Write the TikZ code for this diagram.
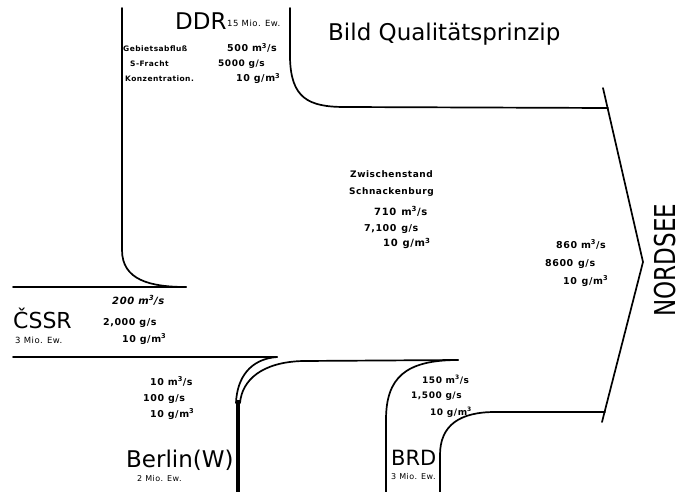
\documentclass[tikz,border=0pt]{standalone}
\usepackage{fontspec}
\setmainfont{DejaVu Sans}
\newfontfamily\lab[LetterSpace=6]{DejaVu Sans}
\newcommand{\cub}{\textsuperscript{3}}
\begin{document}
\begin{tikzpicture}[x=1pt,y=-1pt,
  river/.style={line width=1.7pt, line cap=round, line join=round},
  big/.style={font=\fontsize{#1}{#1}\selectfont, inner sep=0pt, anchor=base west},
  lbl/.style={font=\lab\bfseries\fontsize{#1}{#1}\selectfont, inner sep=0pt, anchor=base west},
  ilbl/.style={font=\lab\bfseries\itshape\fontsize{#1}{#1}\selectfont, inner sep=0pt, anchor=base west},
  ew/.style={font=\lab\fontsize{#1}{#1}\selectfont, inner sep=0pt, anchor=base west}]
\useasboundingbox[fill=white] (0,0) rectangle (686,492);

% ---- river boundaries ----
% DDR left bank, joining CSSR top
\draw[river] (122,8) -- (122,250) .. controls (122,280) and (150,287) .. (186,287);
\draw[river] (13,287) -- (186,287);
% DDR right bank, to Nordsee
\draw[river] (290,8) -- (290,58) .. controls (291,98) and (308,107) .. (345,107) -- (608,108);
% Nordsee bracket
\draw[river] (603,88) -- (643,262) -- (602,422);
% CSSR lower bank / Berlin / BRD
\draw[river] (13,357) -- (277,357);
\draw[river] (277,357) .. controls (250,359) and (237,378) .. (236,403);
\draw[river] (303,361) .. controls (262,362) and (242,380) .. (240,403);
\draw[line width=3.5pt] (238,400) -- (238,492);
\draw[river] (303,361) -- (458,360);
\draw[river] (458,360) .. controls (405,360) and (386,378) .. (386,420) -- (386,492);
\draw[river] (440,492) -- (440,455) .. controls (440,425) and (460,412) .. (495,412) -- (605,412);

% ---- texts ----
\node[big=23] (ddr) at (175,30) {DDR};
\node[ew=8.5] (ddrew) at (227,27) {15 Mio. Ew.};
\node[lbl=7.5] (geb) at (123,52) {Gebietsabfluß};
\node[lbl=9.5] (gebv) at (227,52) {500 m\cub/s};
\node[lbl=7.5] (sfr) at (130,67) {S-Fracht};
\node[lbl=9] (sfrv) at (218,67) {5000 g/s};
\node[lbl=7.5] (konz) at (125,82) {Konzentration.};
\node[lbl=9.5] (konzv) at (236,82) {10 g/m\cub};

\node[big=23] (title) at (328,41) {Bild Qualitätsprinzip};

\node[lbl=9] (zw1) at (350,178) {Zwischenstand};
\node[lbl=9] (zw2) at (349,195) {Schnackenburg};
\node[lbl=10] (zw3) at (374,215) {710\enspace m\cub/s};
\node[lbl=9.5] (zw4) at (364,231) {7,100\enspace g/s};
\node[lbl=10] (zw5) at (383,247) {10\enspace g/m\cub};

\node[lbl=9.5] (ns1) at (556,248) {860 m\cub/s};
\node[lbl=9.5] (ns2) at (545,266) {8600\enspace g/s};
\node[lbl=9.5] (ns3) at (563,284) {10\enspace g/m\cub};
\node[font=\fontsize{23}{23}\selectfont, inner sep=0pt, rotate=90] (nordsee) at (665,260) {\scalebox{1}[1.25]{NORDSEE}};

\node[ilbl=10] (cs1) at (112,304) {200 m\cub/s};
\node[big=22] (cssr) at (13,328) {ČSSR};
\node[lbl=9.5] (cs2) at (103,325) {2,000 g/s};
\node[ew=8.5] (csew) at (15,343) {3 Mio. Ew.};
\node[lbl=9.5] (cs3) at (122,342) {10 g/m\cub};

\node[lbl=9.5] (be1) at (150,385) {10 m\cub/s};
\node[lbl=9.5] (be2) at (143,401) {100 g/s};
\node[lbl=9.5] (be3) at (150,417) {10 g/m\cub};
\node[big=23] (berlin) at (126,467) {Berlin(W)};
\node[ew=8] (beew) at (137,481) {2 Mio. Ew.};

\node[lbl=9] (brd1) at (422,383) {150 m\cub/s};
\node[lbl=9] (brd2) at (411,398) {1,500 g/s};
\node[lbl=9] (brd3) at (430,415) {10 g/m\cub};
\node[big=21] (brd) at (391,465) {BRD};
\node[ew=8] (brdew) at (391,479) {3 Mio. Ew.};
\end{tikzpicture}
\end{document}
